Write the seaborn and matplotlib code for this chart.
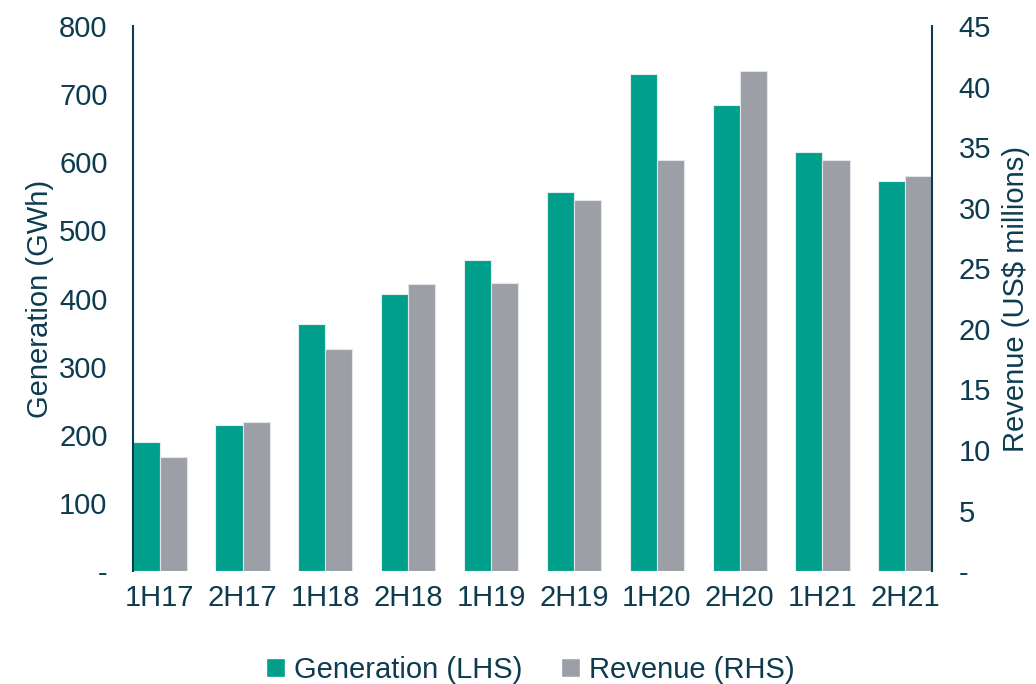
import pandas as pd
import numpy as np
import seaborn as sns
import matplotlib.pyplot as plt
from matplotlib.patches import Patch

periods = ["1H17", "2H17", "1H18", "2H18", "1H19", "2H19", "1H20", "2H20", "1H21", "2H21"]
generation = [189, 215, 363, 407, 457, 557, 730, 684, 615, 572]
revenue = [9.4, 12.3, 18.3, 23.7, 23.8, 30.6, 33.9, 41.3, 33.9, 32.6]

left_ticks = [0, 100, 200, 300, 400, 500, 600, 700, 800]
right_ticks = [0, 5, 10, 15, 20, 25, 30, 35, 40, 45]

green = "#009F8C"
grey = "#9D9FA7"
dark = "#0D3B4F"
series = ["Generation (LHS)", "Revenue (RHS)"]

sns.set_theme(style="white")
plt.rcParams["font.family"] = ["Liberation Sans", "DejaVu Sans"]
plt.rcParams["text.color"] = dark
plt.rcParams["axes.labelcolor"] = dark
plt.rcParams["xtick.color"] = dark
plt.rcParams["ytick.color"] = dark

gen_df = pd.DataFrame({"period": periods, "value": generation, "series": series[0]})
rev_df = pd.DataFrame({"period": periods, "value": revenue, "series": series[1]})

fig = plt.figure(figsize=(10.36, 6.84), dpi=100)
ax = fig.add_axes([0.128, 0.165, 0.772, 0.797])
ax2 = ax.twinx()

bw = 0.653
sns.barplot(data=gen_df, x="period", y="value", hue="series", hue_order=series,
            palette=[green, grey], saturation=1, width=bw, gap=0, dodge=True, legend=False,
            edgecolor="#dff0ec", linewidth=0.8, ax=ax)
sns.barplot(data=rev_df, x="period", y="value", hue="series", hue_order=series,
            palette=[green, grey], saturation=1, width=bw, gap=0, dodge=True, legend=False,
            edgecolor="#e4e5e8", linewidth=0.8, ax=ax2)

ax.set_xlim(-bw / 2, len(periods) - 1 + bw / 2)
ax.set_ylim(0, 800)
ax2.set_ylim(0, 45)
ax.set_yticks(left_ticks)
ax.set_yticklabels(["-"] + [str(t) for t in left_ticks[1:]])
ax2.set_yticks(right_ticks)
ax2.set_yticklabels(["-"] + [str(t) for t in right_ticks[1:]])

ax.set_xlabel("")
ax.set_ylabel("Generation (GWh)", fontsize=21, labelpad=4)
ax2.set_ylabel("Revenue (US$ millions)", fontsize=21, labelpad=8)
ax.tick_params(axis="y", length=0, labelsize=21, pad=18)
ax2.tick_params(axis="y", length=0, labelsize=21, pad=19)
ax.tick_params(axis="x", length=0, labelsize=21, pad=9)

for a in (ax, ax2):
    for s in ("top", "bottom"):
        a.spines[s].set_visible(False)
    a.spines["left"].set_color(dark)
    a.spines["right"].set_color(dark)
    a.spines["left"].set_linewidth(1.5)
    a.spines["right"].set_linewidth(1.5)
ax.spines["right"].set_visible(False)
ax2.spines["left"].set_visible(False)

handles = [Patch(facecolor=green, label=series[0]), Patch(facecolor=grey, label=series[1])]
fig.legend(handles=handles, loc="lower center", bbox_to_anchor=(0.512, -0.038), ncol=2,
           frameon=False, fontsize=21, handlelength=0.65, handleheight=0.65,
           handletextpad=0.3, columnspacing=1.32)

plt.savefig("out.png", dpi=100)
